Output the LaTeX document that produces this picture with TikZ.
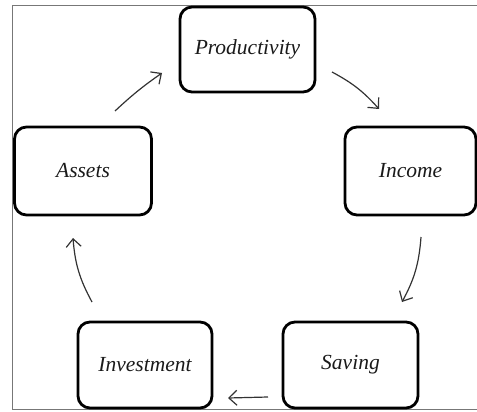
\documentclass[tikz,border=0pt]{standalone}
\usepackage{fontspec}
\setmainfont{Liberation Serif}
\usetikzlibrary{arrows.meta}
\definecolor{ink}{HTML}{1A1A1A}
\definecolor{arr}{HTML}{333333}
\definecolor{frame}{HTML}{777777}
\begin{document}
\begin{tikzpicture}[x=1pt,y=-1pt,
  box/.style={draw=black, line width=2.8pt, rounded corners=12pt, fill=white,
    font=\fontsize{21.5}{25}\selectfont\itshape, text=ink, inner sep=0pt},
  flow/.style={draw=arr, line width=1.2pt, -{Straight Barb[length=8pt,width=15pt,line width=1.2pt]}}]
\useasboundingbox (0,0) rectangle (477,412);
\draw[frame, line width=0.8pt] (477,5) -- (12,5) -- (12,409) -- (477,409);
\node[box, minimum width=135pt, minimum height=85pt] (prod) at (247.5,49.5) {Productivity};
\node[box, minimum width=131pt, minimum height=88pt] (inc) at (410.5,171) {Income};
\node[box, minimum width=137pt, minimum height=88pt] (ass) at (83,171) {Assets};
\node[box, minimum width=134pt, minimum height=86pt] (inv) at (145,365) {Investment};
\node[box, minimum width=135pt, minimum height=86pt] (sav) at (350.5,365) {Saving};
\coordinate (a1s) at (115,111); \coordinate (a1e) at (162,73);
\coordinate (a2s) at (332,72);  \coordinate (a2e) at (379,109);
\coordinate (a3s) at (421,237); \coordinate (a3e) at (402,302);
\coordinate (a4s) at (268,397); \coordinate (a4e) at (228,398);
\coordinate (a5s) at (92,302);  \coordinate (a5e) at (73,238);
\draw[flow] (a1s) to[bend left=4] (a1e);
\draw[flow] (a2s) to[bend left=10] (a2e);
\draw[flow] (a3s) to[bend left=12] (a3e);
\draw[flow] (a4s) to (a4e);
\draw[flow] (a5s) to[bend left=12] (a5e);
\end{tikzpicture}
\end{document}
